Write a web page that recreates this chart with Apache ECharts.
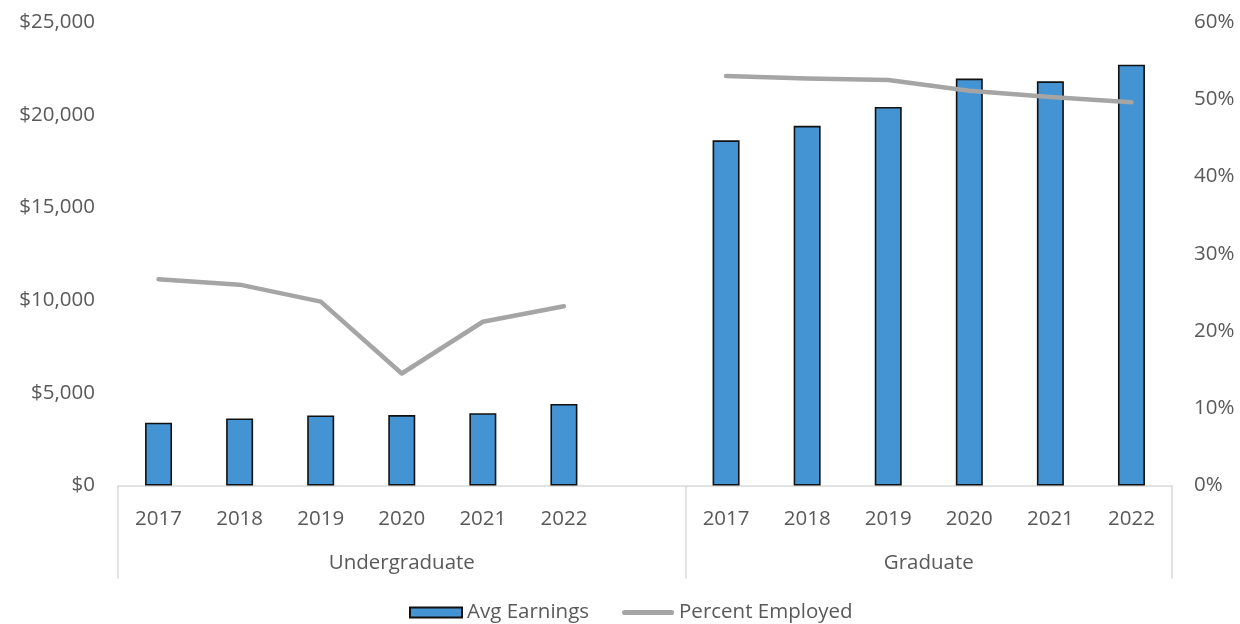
<!DOCTYPE html>
<html>
<head>
<meta charset="utf-8">
<script src="https://cdn.jsdelivr.net/npm/echarts@6/dist/echarts.min.js"></script>
<style>
  html, body { margin: 0; padding: 0; background: #fff; }
  #chart { width: 1240px; height: 624px; }
</style>
</head>
<body>
<div id="chart"></div>
<script>
// Year labels for each slot; an empty slot separates the two groups
const years = ['2017', '2018', '2019', '2020', '2021', '2022', '', '2017', '2018', '2019', '2020', '2021', '2022'];
// Group names: undergraduate spans slots 0-6, graduate spans slots 7-12
const groups = ['Undergraduate', 'Graduate'];
// Average earnings in dollars (null for the separator slot)
const avgEarnings = [3390, 3620, 3780, 3800, 3900, 4400, null, 18620, 19400, 20420, 21950, 21800, 22700];
// Share of students employed, percent
const percentEmployed = [26.7, 26.0, 23.8, 14.5, 21.2, 23.2, null, 53.0, 52.7, 52.5, 51.1, 50.3, 49.6];
// Axis ticks
const earningsTicks = { min: 0, max: 25000, interval: 5000 };
const percentTicks = { min: 0, max: 60, interval: 10 };

// Half-slot positions for the group row: labels sit on group centres, dividers on group edges
const halfSlots = [];
for (let i = 0; i <= years.length * 2; i++) halfSlots.push('');
halfSlots[7] = groups[0];
halfSlots[20] = groups[1];
const dividerAt = [0, 14, years.length * 2];

const font = 'Open Sans';
const fontSize = 20.5;
const textColor = '#595959';
const axisGray = '#d9d9d9';
const lineGray = '#a5a5a5';

const chart = echarts.init(document.getElementById('chart'), null, { renderer: 'canvas' });
chart.setOption({
  animation: false,
  textStyle: { fontFamily: font },
  grid: { left: 118, right: 68, top: 22, bottom: 138.5, containLabel: false },
  legend: {
    top: 597,
    left: 404,
    itemWidth: 52,
    itemHeight: 10,
    itemGap: 33,
    textStyle: { fontFamily: font, fontSize: fontSize, color: textColor },
    data: [
      { name: 'Avg Earnings', icon: 'rect' },
      {
        name: 'Percent Employed',
        icon: 'path://M5,0 L95,0 A5,5 0 0 1 95,10 L5,10 A5,5 0 0 1 5,0 Z',
        itemStyle: { color: lineGray, borderWidth: 0 }
      }
    ]
  },
  xAxis: [
    {
      type: 'category',
      data: years,
      boundaryGap: true,
      axisLine: { show: true, lineStyle: { color: axisGray, width: 1.5 } },
      axisTick: { show: false },
      axisLabel: { interval: 0, margin: 23, fontFamily: font, fontSize: fontSize, color: textColor }
    },
    {
      type: 'category',
      data: halfSlots,
      boundaryGap: false,
      position: 'bottom',
      axisLine: { show: false },
      axisTick: {
        show: true,
        length: 93,
        interval: (i) => dividerAt.indexOf(i) >= 0,
        lineStyle: { color: axisGray, width: 1.5 }
      },
      axisLabel: {
        interval: (i, v) => v !== '',
        margin: 67,
        fontFamily: font,
        fontSize: fontSize,
        color: textColor
      },
      splitLine: { show: false }
    }
  ],
  yAxis: [
    {
      type: 'value',
      min: earningsTicks.min,
      max: earningsTicks.max,
      interval: earningsTicks.interval,
      axisLine: { show: false },
      axisTick: { show: false },
      splitLine: { show: false },
      axisLabel: {
        margin: 23,
        fontFamily: font,
        fontSize: fontSize,
        color: textColor,
        formatter: (v) => '$' + v.toLocaleString('en-US')
      }
    },
    {
      type: 'value',
      min: percentTicks.min,
      max: percentTicks.max,
      interval: percentTicks.interval,
      position: 'right',
      axisLine: { show: false },
      axisTick: { show: false },
      splitLine: { show: false },
      axisLabel: {
        margin: 22,
        fontFamily: font,
        fontSize: fontSize,
        color: textColor,
        formatter: (v) => v + '%'
      }
    }
  ],
  series: [
    {
      name: 'Avg Earnings',
      type: 'bar',
      xAxisIndex: 0,
      yAxisIndex: 0,
      data: avgEarnings,
      barWidth: 27,
      itemStyle: { color: '#4493d3', borderColor: '#111', borderWidth: 1.6 }
    },
    {
      name: 'Percent Employed',
      type: 'line',
      xAxisIndex: 0,
      yAxisIndex: 1,
      data: percentEmployed,
      connectNulls: false,
      symbol: 'none',
      lineStyle: { color: lineGray, width: 4.5, cap: 'round', join: 'round' },
      itemStyle: { color: lineGray }
    }
  ]
});
</script>
</body>
</html>
